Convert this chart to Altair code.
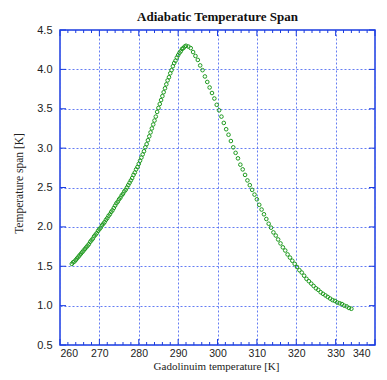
import altair as alt
import pandas as pd

# Rising branch (K, temperature span K)
rise_x = [263.0, 263.33, 263.67, 264.0, 264.33, 264.67, 265.0, 265.33, 265.67, 266.0,
          266.33, 266.67, 267.0, 267.33, 267.67, 268.0, 268.33, 268.67, 269.0, 269.33,
          269.67, 270.0, 270.33, 270.67, 271.0, 271.33, 271.67, 272.0, 272.33, 272.67,
          273.0, 273.33, 273.67, 274.0, 274.33, 274.67, 275.0, 275.33, 275.67, 276.0,
          276.33, 276.67, 277.0, 277.33, 277.67, 278.0, 278.33, 278.67, 279.0, 279.33,
          279.67, 280.0, 280.33, 280.67, 281.0, 281.33, 281.67, 282.0, 282.33, 282.67,
          283.0, 283.33, 283.67, 284.0, 284.33, 284.67, 285.0, 285.33, 285.67, 286.0,
          286.33, 286.67, 287.0, 287.33, 287.67, 288.0, 288.33, 288.67, 289.0, 289.33,
          289.67, 290.0, 290.33, 290.67, 291.0, 291.33, 291.67, 292.0]
rise_y = [1.53, 1.55, 1.56, 1.58, 1.60, 1.62, 1.64, 1.66, 1.68, 1.70,
          1.72, 1.74, 1.76, 1.78, 1.81, 1.83, 1.85, 1.88, 1.90, 1.92,
          1.95, 1.97, 1.99, 2.02, 2.04, 2.06, 2.09, 2.11, 2.14, 2.16,
          2.19, 2.21, 2.24, 2.27, 2.30, 2.32, 2.35, 2.37, 2.40, 2.42,
          2.45, 2.47, 2.50, 2.53, 2.56, 2.59, 2.62, 2.66, 2.69, 2.73,
          2.76, 2.80, 2.84, 2.88, 2.92, 2.96, 3.01, 3.05, 3.10, 3.15,
          3.20, 3.25, 3.30, 3.35, 3.40, 3.46, 3.51, 3.56, 3.61, 3.66,
          3.71, 3.76, 3.81, 3.86, 3.90, 3.95, 3.99, 4.04, 4.08, 4.11,
          4.15, 4.18, 4.21, 4.23, 4.26, 4.27, 4.29, 4.30]

# Falling branch
fall_x = [292.6, 293.2, 293.8, 294.4, 295.0, 295.6, 296.2, 296.8, 297.4, 298.0,
          298.6, 299.2, 299.8, 300.4, 301.0, 301.6, 302.2, 302.8, 303.4, 304.0,
          304.6, 305.2, 305.8, 306.4, 307.0, 307.6, 308.2, 308.8, 309.4, 310.0,
          310.6, 311.2, 311.8, 312.4, 313.0, 313.6, 314.2, 314.8, 315.4, 316.0,
          316.6, 317.2, 317.8, 318.4, 319.0, 319.6, 320.2, 320.8, 321.4, 322.0,
          322.6, 323.2, 323.8, 324.4, 325.0, 325.6, 326.2, 326.8, 327.4, 328.0,
          328.6, 329.2, 329.8, 330.4, 331.0, 331.6, 332.2, 332.8, 333.4, 334.0]
fall_y = [4.29, 4.27, 4.22, 4.17, 4.12, 4.05, 3.99, 3.91, 3.84, 3.77,
          3.70, 3.63, 3.55, 3.48, 3.40, 3.32, 3.24, 3.17, 3.09, 3.01,
          2.94, 2.87, 2.79, 2.73, 2.66, 2.59, 2.53, 2.47, 2.41, 2.35,
          2.28, 2.22, 2.16, 2.10, 2.04, 1.99, 1.93, 1.89, 1.84, 1.79,
          1.74, 1.70, 1.65, 1.61, 1.57, 1.53, 1.49, 1.45, 1.42, 1.38,
          1.34, 1.31, 1.28, 1.25, 1.22, 1.20, 1.17, 1.15, 1.13, 1.11,
          1.09, 1.07, 1.06, 1.04, 1.03, 1.02, 1.00, 0.99, 0.97, 0.96]

x_major = [260, 270, 280, 290, 300, 310, 320, 330, 340]
x_minor = [262, 264, 266, 268, 272, 274, 276, 278, 282, 284, 286, 288, 292, 294, 296, 298,
           302, 304, 306, 308, 312, 314, 316, 318, 322, 324, 326, 328, 332, 334, 336, 338]
y_major = [0.5, 1.0, 1.5, 2.0, 2.5, 3.0, 3.5, 4.0, 4.5]

BLUE = "#1b3de0"
GRID = "#4a66f0"
GREEN = "#1f9a1f"
W, H = 315, 315

df = pd.DataFrame({"x": rise_x + fall_x, "y": rise_y + fall_y})

xs = alt.Scale(domain=[260, 340], nice=False, zero=False)
ys = alt.Scale(domain=[0.5, 4.5], nice=False, zero=False)

x_axis = alt.Axis(
    values=x_major, title="Gadolinuim temperature [K]", format="d",
    grid=True, gridColor=GRID, gridDash=[2, 2], gridWidth=1, gridOpacity=0.85,
    ticks=False, domain=False, labelFont="Liberation Sans", labelFontSize=10.5,
    labelColor="#222222", labelPadding=3,
    labelOffset={"condition": {"test": "datum.value === 340", "value": -5}, "value": 0},
    titleFont="Liberation Serif", titleFontSize=11, titleFontWeight="normal",
    titleColor="#222222", titleBaseline="alphabetic", titleY=24, titleX=156)
y_axis = alt.Axis(
    values=y_major, title="Temperature span [K]", format=".1f",
    grid=True, gridColor=GRID, gridDash=[2, 2], gridWidth=1, gridOpacity=0.85,
    ticks=False, domain=False, labelFont="Liberation Sans", labelFontSize=11,
    labelColor="#222222", labelPadding=8, titleFont="Liberation Serif",
    titleFontSize=11.5, titleFontWeight="normal", titleColor="#222222",
    titlePadding=12, titleY=153)

points = alt.Chart(df).mark_point(
    shape="circle", filled=False, size=13, strokeWidth=1, color=GREEN, opacity=1
).encode(
    x=alt.X("x:Q", scale=xs, axis=x_axis),
    y=alt.Y("y:Q", scale=ys, axis=y_axis),
)

xmaj = pd.DataFrame({"t": x_major})
xmin = pd.DataFrame({"t": x_minor})
ymaj = pd.DataFrame({"t": y_major})

def xticks(data, length):
    bottom = alt.Chart(data).mark_rule(color=BLUE, strokeWidth=1).encode(
        x=alt.X("t:Q", scale=xs, axis=x_axis), y=alt.value(H), y2=alt.value(H - length))
    top = alt.Chart(data).mark_rule(color=BLUE, strokeWidth=1).encode(
        x=alt.X("t:Q", scale=xs, axis=x_axis), y=alt.value(0), y2=alt.value(length))
    return [bottom, top]

def yticks(data, length):
    left = alt.Chart(data).mark_rule(color=BLUE, strokeWidth=1).encode(
        y=alt.Y("t:Q", scale=ys, axis=y_axis), x=alt.value(0), x2=alt.value(length))
    right = alt.Chart(data).mark_rule(color=BLUE, strokeWidth=1).encode(
        y=alt.Y("t:Q", scale=ys, axis=y_axis), x=alt.value(W), x2=alt.value(W - length))
    return [left, right]

layers = [points] + xticks(xmaj, 6) + xticks(xmin, 3) + yticks(ymaj, 6)

chart = alt.layer(*layers).properties(
    width=W, height=H,
    title=alt.Title("Adiabatic Temperature Span", font="Liberation Serif",
                    fontSize=13, fontWeight="bold", color="#111111", offset=0),
    padding={"left": 52, "top": 22, "right": 4, "bottom": 27},
    autosize=alt.AutoSizeParams(type="none"),
).configure_view(stroke=BLUE, strokeWidth=1.5)

chart.save("out.html", embed_options={"renderer": "svg", "actions": False})
